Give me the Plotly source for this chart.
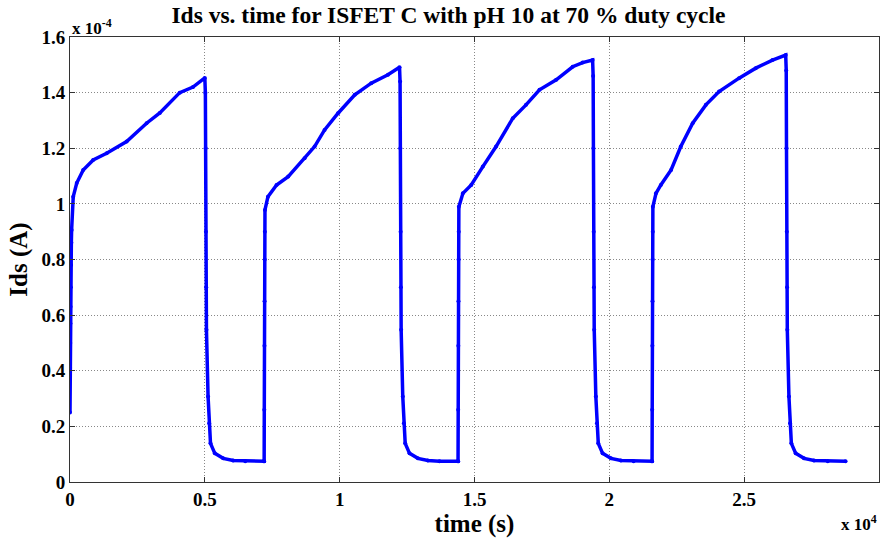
import plotly.graph_objects as go

# time in units of 1e4 s, Ids in units of 1e-4 A
t_c1 = [0.0, 0.0005, 0.001, 0.0015, 0.002, 0.003, 0.004, 0.005, 0.006, 0.012, 0.025, 0.049, 0.086,
        0.136, 0.21, 0.284, 0.333, 0.407, 0.456, 0.50,
        0.502, 0.503, 0.504, 0.505, 0.506, 0.512, 0.516, 0.521, 0.537, 0.568, 0.605, 0.65, 0.719]
i_c1 = [0.25, 0.41, 0.50, 0.57, 0.63, 0.70, 0.78, 0.86, 0.906, 1.026, 1.075, 1.122, 1.158,
        1.182, 1.224, 1.29, 1.327, 1.40, 1.42, 1.453,
        1.40, 1.20, 0.90, 0.70, 0.547, 0.307, 0.211, 0.139, 0.103, 0.085, 0.077, 0.075, 0.075]

t_c2 = [0.7200, 0.7205, 0.7210, 0.7215, 0.7220, 0.7225, 0.7230, 0.734, 0.766, 0.809, 0.870, 0.907,
        0.944, 0.994, 1.056, 1.117, 1.179, 1.222,
        1.224, 1.225, 1.226, 1.227, 1.228, 1.234, 1.238, 1.243, 1.259, 1.290, 1.327, 1.37, 1.439]
i_c2 = [0.075, 0.26, 0.49, 0.65, 0.80, 0.90, 0.978, 1.026, 1.068, 1.098, 1.164, 1.206,
        1.266, 1.326, 1.392, 1.434, 1.464, 1.491,
        1.44, 1.20, 0.90, 0.70, 0.547, 0.307, 0.211, 0.139, 0.103, 0.085, 0.077, 0.075, 0.075]

t_c3 = [1.4390, 1.4395, 1.4400, 1.4405, 1.4410, 1.4415, 1.4420, 1.457, 1.488, 1.531, 1.580, 1.642,
        1.691, 1.741, 1.803, 1.864, 1.901, 1.938,
        1.940, 1.941, 1.942, 1.943, 1.944, 1.950, 1.954, 1.959, 1.975, 2.006, 2.043, 2.09, 2.158]
i_c3 = [0.075, 0.26, 0.49, 0.65, 0.80, 0.90, 0.99, 1.038, 1.068, 1.134, 1.206, 1.308,
        1.356, 1.41, 1.446, 1.493, 1.508, 1.517,
        1.46, 1.20, 0.90, 0.70, 0.547, 0.307, 0.211, 0.139, 0.103, 0.085, 0.077, 0.075, 0.075]

t_c4 = [2.1585, 2.1590, 2.1595, 2.1600, 2.1605, 2.1610, 2.1615, 2.173, 2.191, 2.229, 2.265, 2.309,
        2.358, 2.407, 2.481, 2.543, 2.605, 2.654,
        2.656, 2.657, 2.658, 2.659, 2.660, 2.666, 2.670, 2.675, 2.691, 2.722, 2.759, 2.81, 2.876]
i_c4 = [0.075, 0.26, 0.49, 0.65, 0.80, 0.90, 0.99, 1.038, 1.068, 1.122, 1.206, 1.29,
        1.356, 1.404, 1.452, 1.488, 1.517, 1.535,
        1.48, 1.20, 0.90, 0.70, 0.547, 0.307, 0.211, 0.139, 0.103, 0.085, 0.077, 0.075, 0.075]

x_ticks = [0, 0.5, 1, 1.5, 2, 2.5, 3]
x_ticklabels = ["0", "0.5", "1", "1.5", "2", "2.5", "3"]
y_ticks = [0, 0.2, 0.4, 0.6, 0.8, 1.0, 1.2, 1.4, 1.6]
y_ticklabels = ["0", "0.2", "0.4", "0.6", "0.8", "1", "1.2", "1.4", "1.6"]

t_all = t_c1 + t_c2 + t_c3 + t_c4
i_all = i_c1 + i_c2 + i_c3 + i_c4

FONT = "Liberation Serif"
BLUE = "#0000ff"

fig = go.Figure()
fig.add_trace(go.Scatter(
    x=t_all, y=i_all, mode="lines+markers",
    line=dict(color=BLUE, width=3.5),
    marker=dict(color=BLUE, size=4, symbol="circle"),
    hoverinfo="skip", showlegend=False,
))

axis_common = dict(
    showline=True, linecolor="#333333", linewidth=1, mirror="ticks",
    ticks="inside", ticklen=5, tickcolor="#333333",
    showgrid=True, gridcolor="#888888", griddash="1px,2px", gridwidth=1,
    zeroline=False,
    tickfont=dict(family=FONT, size=19, color="black"),
)

fig.update_layout(
    width=882, height=541,
    margin=dict(l=70, r=3, t=37, b=59),
    paper_bgcolor="white", plot_bgcolor="white",
    title=dict(text="<b>Ids vs. time for ISFET C with pH 10 at 70 % duty cycle</b>",
               x=0.5085, xanchor="center", y=0.972, yanchor="middle",
               font=dict(family=FONT, size=23.5, color="black")),
    xaxis=dict(range=[0, 3], tickvals=x_ticks, ticktext=["<b>%s</b>" % s for s in x_ticklabels],
               title=dict(text="<b>time (s)</b>", font=dict(family=FONT, size=25, color="black"), standoff=2),
               **axis_common),
    yaxis=dict(range=[0, 1.6], tickvals=y_ticks, ticktext=["<b>%s</b>" % s for s in y_ticklabels],
               title=dict(text="<b>Ids (A)</b>", font=dict(family=FONT, size=25, color="black"), standoff=6),
               **axis_common),
)

fig.add_annotation(text="<b>x 10<sup>-4</sup></b>", xref="paper", yref="paper", x=0.0, y=1.0,
                   xanchor="left", yanchor="bottom", showarrow=False, yshift=-3,
                   font=dict(family=FONT, size=17, color="black"))
fig.add_annotation(text="<b>x 10<sup>4</sup></b>", xref="paper", yref="paper", x=1.0, y=0.0,
                   xanchor="right", yanchor="top", showarrow=False, yshift=-28,
                   font=dict(family=FONT, size=17, color="black"))

fig.write_html("out.html")
